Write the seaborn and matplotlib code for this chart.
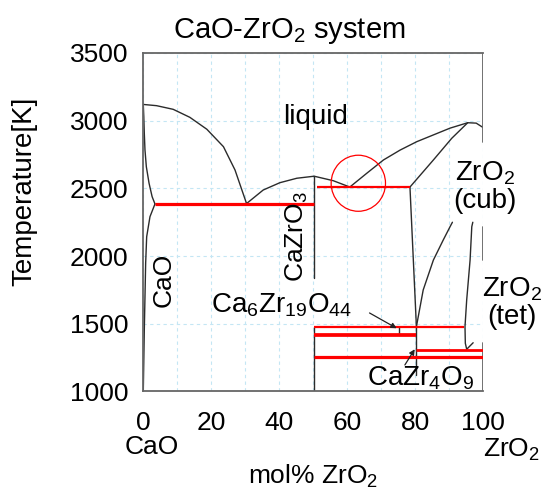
import matplotlib
matplotlib.use("Agg")
import matplotlib.pyplot as plt
import seaborn as sns
import pandas as pd
from matplotlib.patches import Ellipse

# ---------------- data (x: mol% ZrO2, T: temperature in K) ----------------
cao_liquidus_x = [0, 3.9, 8.8, 13.7, 18.7, 23.6, 27.0, 30.4]
cao_liquidus_t = [3120, 3111, 3084, 3025, 2937, 2808, 2636, 2388]
cao_solidus_x = [0, 0.15, 0.3, 0.5, 0.9, 1.7, 2.6, 3.44]
cao_solidus_t = [3120, 3030, 2907, 2784, 2660, 2538, 2439, 2385]
cao_solvus_x = [3.44, 1.97, 1.0, 0.7, 0.5, 0.3, 0.0]
cao_solvus_t = [2385, 2291, 2143, 1949, 1700, 1454, 1000]
czo_liquidus_x = [30.4, 35.3, 40.2, 45.2, 50.3, 55.9, 60.8]
czo_liquidus_t = [2388, 2488, 2542, 2575, 2590, 2557, 2510]
zro2_liquidus_x = [60.8, 65.8, 70.7, 75.6, 80.5, 85.4, 90.3, 95.5, 98.0, 100]
zro2_liquidus_t = [2510, 2612, 2710, 2783, 2845, 2895, 2945, 2985, 2982, 2950]
cub_solidus_x = [95.5, 90.8, 85.4, 78.5]
cub_solidus_t = [2985, 2870, 2710, 2510]
cub_lower_x = [78.5, 80.4]
cub_lower_t = [2510, 1479]
cub_tet_x = [80.4, 82.4, 85.4, 88.3, 90.3, 91.0]
cub_tet_t = [1479, 1750, 1971, 2119, 2217, 2250]
tet_x = [97.0, 96.7, 96.2, 95.2, 94.7, 94.8, 95.2]
tet_t = [2250, 2217, 1971, 1676, 1479, 1356, 1312]
leader_x = [95.2, 97.1]
leader_t = [1312, 1360]
czo_line_x = [50.3, 50.3]
czo_line_upper_t = [2590, 1838]
czo_line_lower_t = [1479, 1000]
cz4_line_x = [80.4, 80.4]
cz4_line_t = [1479, 1120]
c6_tick_x = [75.4, 75.4]
c6_tick_t = [1479, 1417]
zro2_edge_x = [100, 100]
zro2_edge_top_t = [3500, 2845]
zro2_edge_mid_t = [2217, 1971]
zro2_edge_low_t = [1360, 1000]

red_t = [2385, 2508, 1479, 1417, 1306, 1257]
red_x0 = [3.44, 51.0, 50.3, 50.3, 80.4, 50.3]
red_x1 = [50.3, 78.5, 94.4, 80.4, 100, 100]

arrow_from = [(66.6, 1580), (77.0, 1196)]
arrow_to = [(74.6, 1467), (79.9, 1312)]

circle_center = (63.3, 2538)
circle_w, circle_h = 16, 414

x_ticks = [0, 20, 40, 60, 80, 100]
y_ticks = [1000, 1500, 2000, 2500, 3000, 3500]

# ---------------- build tables ----------------
curves = [
    ("cao_liq", cao_liquidus_x, cao_liquidus_t),
    ("cao_sol", cao_solidus_x, cao_solidus_t),
    ("cao_solv", cao_solvus_x, cao_solvus_t),
    ("czo_liq", czo_liquidus_x, czo_liquidus_t),
    ("zro2_liq", zro2_liquidus_x, zro2_liquidus_t),
    ("cub_sol", cub_solidus_x, cub_solidus_t),
    ("cub_low", cub_lower_x, cub_lower_t),
    ("cub_tet", cub_tet_x, cub_tet_t),
    ("tet", tet_x, tet_t),
    ("leader", leader_x, leader_t),
    ("czo_up", czo_line_x, czo_line_upper_t),
    ("czo_lo", czo_line_x, czo_line_lower_t),
    ("cz4", cz4_line_x, cz4_line_t),
    ("c6", c6_tick_x, c6_tick_t),
]
rows = []
for name, xs, ts in curves:
    for i, (xv, tv) in enumerate(zip(xs, ts)):
        rows.append({"curve": name, "order": i, "x": xv, "T": tv})
df = pd.DataFrame(rows)

edges = [("e1", zro2_edge_x, zro2_edge_top_t), ("e2", zro2_edge_x, zro2_edge_mid_t),
         ("e3", zro2_edge_x, zro2_edge_low_t)]
erows = []
for name, xs, ts in edges:
    for xv, tv in zip(xs, ts):
        erows.append({"curve": name, "x": xv, "T": tv})
edf = pd.DataFrame(erows)

red_widths = [2.3, 1.6, 1.6, 2.7, 2.0, 2.3]

# ---------------- style ----------------
sns.set_theme(style="white")
plt.rcParams["font.family"] = ["Liberation Sans", "DejaVu Sans"]
plt.rcParams["mathtext.fontset"] = "custom"
plt.rcParams["mathtext.rm"] = "Liberation Sans"
plt.rcParams["mathtext.it"] = "Liberation Sans:italic"
plt.rcParams["mathtext.bf"] = "Liberation Sans:bold"
plt.rcParams["mathtext.default"] = "regular"
plt.rcParams["text.color"] = "black"
plt.rcParams["axes.labelcolor"] = "black"
plt.rcParams["xtick.color"] = "black"
plt.rcParams["ytick.color"] = "black"

fig = plt.figure(figsize=(5.56, 4.93), dpi=100)
ax = fig.add_axes([0.2577, 0.2059, 0.6110, 0.6866])

line_col = "#2b2b2b"
frame_col = "#666666"

sns.lineplot(data=df, x="x", y="T", units="curve", estimator=None, sort=False,
             color=line_col, linewidth=1.0, ax=ax, legend=False)
sns.lineplot(data=edf, x="x", y="T", units="curve", estimator=None, sort=False,
             color=frame_col, linewidth=1.3, ax=ax, legend=False)

for t, x0, x1, w in zip(red_t, red_x0, red_x1, red_widths):
    ax.hlines(t, x0, x1, colors="#ff0000", linewidth=w, zorder=3)

ax.add_patch(Ellipse(circle_center, circle_w, circle_h, fill=False,
                     edgecolor="#ff0000", linewidth=0.9, zorder=4))

for (fx, ft), (tx, tt) in zip(arrow_from, arrow_to):
    ax.annotate("", xy=(tx, tt), xytext=(fx, ft),
                arrowprops=dict(arrowstyle="-|>", color="#222222", lw=0.9,
                                mutation_scale=8, shrinkA=0, shrinkB=0),
                zorder=5)

ax.set_xlim(0, 100)
ax.set_ylim(1000, 3500)
ax.set_xticks(x_ticks)
ax.set_xticks(range(10, 100, 20), minor=True)
ax.set_yticks(y_ticks)
ax.set_xticklabels([str(v) for v in x_ticks], fontsize=19, color="black")
ax.set_yticklabels([str(v) for v in y_ticks], fontsize=19, color="black")
ax.tick_params(axis="both", which="both", length=0)
ax.tick_params(axis="x", pad=14)
ax.tick_params(axis="y", pad=11)
ax.grid(True, which="both", color="#c4e6f4", linestyle=(0, (3, 3)), linewidth=0.8)
ax.set_axisbelow(True)

for side in ["left", "top", "bottom"]:
    ax.spines[side].set_color(frame_col)
    ax.spines[side].set_linewidth(1.3)
ax.spines["right"].set_visible(False)

ax.set_xlabel("mol% ZrO$_2$", fontsize=19, va="top", color="black")
ax.xaxis.set_label_coords(0.5, -0.212)
ax.set_ylabel("Temperature[K]", fontsize=20, color="black")
ax.yaxis.set_label_coords(-0.313, 0.59)
ax.set_title("CaO-ZrO$_2$ system", fontsize=21, x=0.429, pad=11, color="black")

txt = dict(color="black", fontsize=20)
ax.text(50.8, 3027, "liquid", ha="center", va="center", **txt)
ax.text(6.1, 1824, "CaO", ha="center", va="center", rotation=90, fontsize=19, color="black")
ax.text(45.2, 2145, "CaZrO$_3$", ha="center", va="center", rotation=90, fontsize=19,
        color="black")
ax.text(40.6, 1580, "Ca$_6$Zr$_{19}$O$_{44}$", ha="center", va="baseline", **txt)
ax.text(81.7, 1041, "CaZr$_4$O$_9$", ha="center", va="baseline", clip_on=False, **txt)
ax.text(100.6, 2510, "ZrO$_2$\n(cub)", ha="center", va="center", clip_on=False,
        linespacing=1.05, **txt)
ax.text(108.5, 1654, "ZrO$_2$\n(tet)", ha="center", va="center", clip_on=False,
        linespacing=1.05, **txt)
ax.text(2.6, -0.164, "CaO", transform=ax.get_xaxis_transform(), ha="center",
        va="center", fontsize=19, color="black", clip_on=False)
ax.text(108.5, -0.172, "ZrO$_2$", transform=ax.get_xaxis_transform(), ha="center",
        va="center", fontsize=19, color="black", clip_on=False)

fig.savefig("out.png", dpi=100)
